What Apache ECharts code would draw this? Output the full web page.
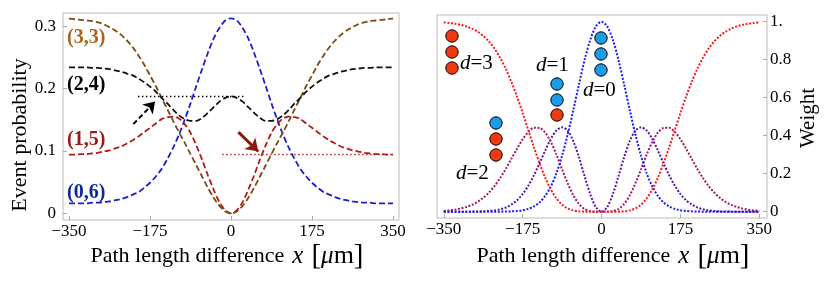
<!DOCTYPE html>
<html><head><meta charset="utf-8">
<script src="https://cdn.jsdelivr.net/npm/echarts@6/dist/echarts.min.js"></script>
<style>html,body{margin:0;padding:0;background:#fff}#c{width:830px;height:284px}</style>
</head><body><div id="c"></div>
<script>
// x positions (path length difference, µm)
const xValues = [-350,-337.5,-325,-312.5,-300,-287.5,-275,-262.5,-250,-237.5,-225,-212.5,-200,-187.5,-175,-162.5,-150,-137.5,-125,-112.5,-100,-87.5,-75,-62.5,-50,-37.5,-25,-12.5,0,12.5,25,37.5,50,62.5,75,87.5,100,112.5,125,137.5,150,162.5,175,187.5,200,212.5,225,237.5,250,262.5,275,287.5,300,312.5,325,337.5,350];
const xTicks = [-350,-175,0,175,350];
const leftYTicks = [0,0.1,0.2,0.3];
const rightYTicks = [0,0.2,0.4,0.6,0.8,1];

// Left panel: event probabilities
const prob33 = [0.312,0.311,0.310,0.309,0.308,0.306,0.303,0.298,0.293,0.286,0.277,0.266,0.253,0.238,0.221,0.204,0.185,0.167,0.148,0.130,0.113,0.095,0.077,0.059,0.041,0.025,0.012,0.003,0,0.003,0.012,0.025,0.041,0.059,0.077,0.095,0.113,0.130,0.148,0.167,0.185,0.204,0.221,0.238,0.253,0.266,0.277,0.286,0.293,0.298,0.303,0.306,0.308,0.309,0.310,0.311,0.312];
const prob24 = [0.234,0.234,0.234,0.234,0.233,0.233,0.232,0.231,0.229,0.227,0.224,0.221,0.216,0.210,0.203,0.195,0.185,0.176,0.166,0.157,0.151,0.148,0.148,0.153,0.161,0.170,0.179,0.185,0.1875,0.185,0.179,0.170,0.161,0.153,0.148,0.148,0.151,0.157,0.166,0.176,0.185,0.195,0.203,0.210,0.216,0.221,0.224,0.227,0.229,0.231,0.232,0.233,0.233,0.234,0.234,0.234,0.234];
const prob15 = [0.094,0.094,0.095,0.095,0.096,0.097,0.099,0.101,0.104,0.107,0.112,0.117,0.123,0.130,0.137,0.144,0.151,0.154,0.155,0.152,0.143,0.129,0.109,0.086,0.061,0.038,0.018,0.005,0,0.005,0.018,0.038,0.061,0.086,0.109,0.129,0.143,0.152,0.155,0.154,0.151,0.144,0.137,0.130,0.123,0.117,0.112,0.107,0.104,0.101,0.099,0.097,0.096,0.095,0.095,0.094,0.094];
const prob06 = [0.016,0.016,0.016,0.016,0.017,0.017,0.018,0.019,0.021,0.023,0.026,0.030,0.034,0.041,0.049,0.059,0.071,0.087,0.105,0.126,0.150,0.176,0.204,0.231,0.257,0.280,0.297,0.309,0.3125,0.309,0.297,0.280,0.257,0.231,0.204,0.176,0.150,0.126,0.105,0.087,0.071,0.059,0.049,0.041,0.034,0.030,0.026,0.023,0.021,0.019,0.018,0.017,0.017,0.016,0.016,0.016,0.016];
const refLine24 = {y: 0.1875, from: -201, to: 32};
const refLine15 = {y: 0.094, from: -19, to: 350};
const blackArrow = [[-211, 0.143], [-164, 0.179]];
const redArrow = [[16, 0.130], [59, 0.099]];

// Right panel: weights
const weightD0 = [0,0,0,0,0,0,0,0,0,0.0001,0.0003,0.001,0.002,0.004,0.008,0.015,0.028,0.049,0.083,0.133,0.203,0.295,0.408,0.536,0.671,0.799,0.905,0.975,1,0.975,0.905,0.799,0.671,0.536,0.408,0.295,0.203,0.133,0.083,0.049,0.028,0.015,0.008,0.004,0.002,0.001,0.0003,0.0001,0,0,0,0,0,0,0,0,0];
const weightD1 = [0,0,0,0.0001,0.0002,0.0005,0.001,0.002,0.004,0.007,0.013,0.022,0.038,0.060,0.093,0.137,0.192,0.255,0.322,0.383,0.427,0.444,0.426,0.371,0.286,0.186,0.092,0.024,0,0.024,0.092,0.186,0.286,0.371,0.426,0.444,0.427,0.383,0.322,0.255,0.192,0.137,0.093,0.060,0.038,0.022,0.013,0.007,0.004,0.002,0.001,0.0005,0.0002,0.0001,0,0,0];
const weightD2 = [0.004,0.007,0.011,0.017,0.025,0.036,0.052,0.073,0.101,0.135,0.177,0.225,0.278,0.331,0.381,0.419,0.442,0.441,0.416,0.367,0.300,0.223,0.149,0.086,0.041,0.014,0.003,0.0002,0,0.0002,0.003,0.014,0.041,0.086,0.149,0.223,0.300,0.367,0.416,0.441,0.442,0.419,0.381,0.331,0.278,0.225,0.177,0.135,0.101,0.073,0.052,0.036,0.025,0.017,0.011,0.007,0.004];
const weightD3 = [0.996,0.993,0.989,0.983,0.975,0.963,0.947,0.925,0.896,0.858,0.810,0.752,0.683,0.605,0.519,0.429,0.339,0.255,0.179,0.117,0.070,0.037,0.017,0.007,0.002,0.0004,0,0,0,0,0,0.0004,0.002,0.007,0.017,0.037,0.070,0.117,0.179,0.255,0.339,0.429,0.519,0.605,0.683,0.752,0.810,0.858,0.896,0.925,0.947,0.963,0.975,0.983,0.989,0.993,0.996];

const SERIF = 'Liberation Serif';
const pairs = arr => xValues.map((x, i) => [x, arr[i]]);
const fmtX = v => v < 0 ? '\u2212' + (-v) : String(v);

function dashedLine(name, data, color, z) {
  return {name, type: 'line', xAxisIndex: 0, yAxisIndex: 0, data: pairs(data), smooth: 0.3,
    showSymbol: false, silent: true, z: z || 2,
    lineStyle: {color, width: 1.8, type: [6, 3]}};
}
function dottedLine(name, data, color) {
  return {name, type: 'line', xAxisIndex: 1, yAxisIndex: 1, data: pairs(data), smooth: 0.3,
    showSymbol: false, silent: true,
    lineStyle: {color, width: 2, type: [2, 1.6]}};
}

const chart = echarts.init(document.getElementById('c'), null, {renderer: 'canvas'});
const axisLabelCommon = {color: '#000', fontFamily: SERIF, fontSize: 17};
const tickCommon = {show: true, inside: true, length: 4, lineStyle: {color: '#aaa'}};

const option = {
  animation: false,
  backgroundColor: '#fff',
  grid: [
    {left: 63, top: 13, width: 336, height: 207, show: true, borderColor: '#bcbcbc', borderWidth: 1},
    {left: 437, top: 15, width: 330, height: 203, show: true, borderColor: '#bcbcbc', borderWidth: 1}
  ],
  xAxis: [
    {type: 'value', gridIndex: 0, min: -363, max: 363, splitLine: {show: false},
      axisLine: {show: false, onZero: false},
      axisTick: Object.assign({customValues: xTicks}, tickCommon),
      axisLabel: Object.assign({customValues: xTicks, formatter: fmtX, margin: 3}, axisLabelCommon)},
    {type: 'value', gridIndex: 1, min: -365, max: 367, splitLine: {show: false},
      axisLine: {show: false, onZero: false},
      axisTick: Object.assign({customValues: xTicks}, tickCommon),
      axisLabel: Object.assign({customValues: xTicks, formatter: fmtX, margin: 3}, axisLabelCommon)}
  ],
  yAxis: [
    {type: 'value', gridIndex: 0, min: -0.0107, max: 0.321, splitLine: {show: false},
      axisLine: {show: false, onZero: false},
      axisTick: Object.assign({customValues: leftYTicks}, tickCommon),
      axisLabel: Object.assign({customValues: leftYTicks, margin: 7, formatter: v => String(+v.toFixed(2))}, axisLabelCommon)},
    {type: 'value', gridIndex: 1, position: 'right', min: -0.033, max: 1.035, splitLine: {show: false},
      axisLine: {show: false, onZero: false},
      axisTick: Object.assign({customValues: rightYTicks}, tickCommon),
      axisLabel: Object.assign({customValues: rightYTicks, margin: 3, formatter: v => v === 1 ? '1.' : String(+v.toFixed(2))}, axisLabelCommon)}
  ],
  series: [
    dashedLine('(0,6)', prob06, '#1c1ccc'),
    dashedLine('(1,5)', prob15, '#b51a1a'),
    dashedLine('(3,3)', prob33, '#7b4b12'),
    Object.assign(dashedLine('(2,4)', prob24, '#111'), {
      markLine: {silent: true, symbol: 'none', label: {show: false}, animation: false,
        data: [
          [{coord: [refLine24.from, refLine24.y], lineStyle: {color: '#000', width: 1.4, type: [1.4, 2.6]}}, {coord: [refLine24.to, refLine24.y]}],
          [{coord: [refLine15.from, refLine15.y], lineStyle: {color: '#b51a1a', width: 1.4, type: [1.4, 2.6]}}, {coord: [refLine15.to, refLine15.y]}],
          [{coord: blackArrow[0], symbol: 'none', lineStyle: {color: '#000', width: 2, type: [5, 3]}}, {coord: blackArrow[1], symbol: 'arrow', symbolSize: 11}],
          [{coord: redArrow[0], symbol: 'none', lineStyle: {color: '#8b1a10', width: 3, type: 'solid'}}, {coord: redArrow[1], symbol: 'arrow', symbolSize: 12}]
        ]}
    }),
    dottedLine('d=1', weightD1, '#5c16a8'),
    dottedLine('d=2', weightD2, '#a3166c'),
    dottedLine('d=0', weightD0, '#1a1aff'),
    dottedLine('d=3', weightD3, '#ff1a1a')
  ]
};

// decorations: photon circles & labels (pixel layout)
const BLUE = '#1e9be8', RED = '#f03a14';
const circles = [
  [452, 36, RED], [452, 52, RED], [452, 68, RED],
  [496, 123, BLUE], [496, 139, RED], [496, 155, RED],
  [557, 84, BLUE], [557, 100, BLUE], [557, 115, RED],
  [601, 38, BLUE], [601, 54, BLUE], [601, 70, BLUE]
];
const graphics = circles.map(c => ({type: 'circle', shape: {cx: c[0], cy: c[1], r: 6.2}, style: {fill: c[2], stroke: '#000', lineWidth: 1}, z: 10}));
const richD = {i: {fontFamily: SERIF, fontStyle: 'italic', fontSize: 21, fill: '#000'}, n: {fontFamily: SERIF, fontSize: 21, fill: '#000'}};
[['3', 460, 63], ['1', 536, 65], ['0', 583, 90], ['2', 456, 173]].forEach(l => {
  graphics.push({type: 'text', x: l[1], y: l[2], z: 11, style: {text: '{i|d}{n|=' + l[0] + '}', rich: richD, textVerticalAlign: 'middle', textAlign: 'left'}});
});
[['(3,3)', 38, '#a8651c'], ['(2,4)', 85, '#000'], ['(1,5)', 140, '#9b1a14'], ['(0,6)', 193, '#0c2a9a']].forEach(l => {
  graphics.push({type: 'text', x: 67, y: l[1], z: 11, style: {text: l[0], fill: l[2], fontFamily: SERIF, fontWeight: 'bold', fontSize: 20, textVerticalAlign: 'middle', textAlign: 'left'}});
});
graphics.push({type: 'text', x: 20, y: 135, rotation: Math.PI / 2, style: {text: 'Event probability', fill: '#000', fontFamily: SERIF, fontSize: 22, textAlign: 'center', textVerticalAlign: 'middle'}});
graphics.push({type: 'text', x: 808, y: 118, rotation: Math.PI / 2, style: {text: 'Weight', fill: '#000', fontFamily: SERIF, fontSize: 21, textAlign: 'center', textVerticalAlign: 'middle'}});
const richT = {
  t: {fontFamily: SERIF, fontSize: 22, fill: '#000'},
  s: {fontFamily: SERIF, fontSize: 22, fill: '#000', width: 8},
  i: {fontFamily: SERIF, fontStyle: 'italic', fontSize: 25, fill: '#000'},
  m: {fontFamily: SERIF, fontSize: 26, fill: '#000'},
  b: {fontFamily: SERIF, fontSize: 29, fill: '#000'}
};
[227, 613].forEach(cx => {
  graphics.push({type: 'text', x: cx, y: 256, style: {text: '{t|Path length difference}{s| }{i|x}{s| }{b|[}{i|\u03bc}{m|m}{b|]}', rich: richT, textAlign: 'center', textVerticalAlign: 'middle'}});
});
option.graphic = graphics;
chart.setOption(option);
</script>
</body></html>
